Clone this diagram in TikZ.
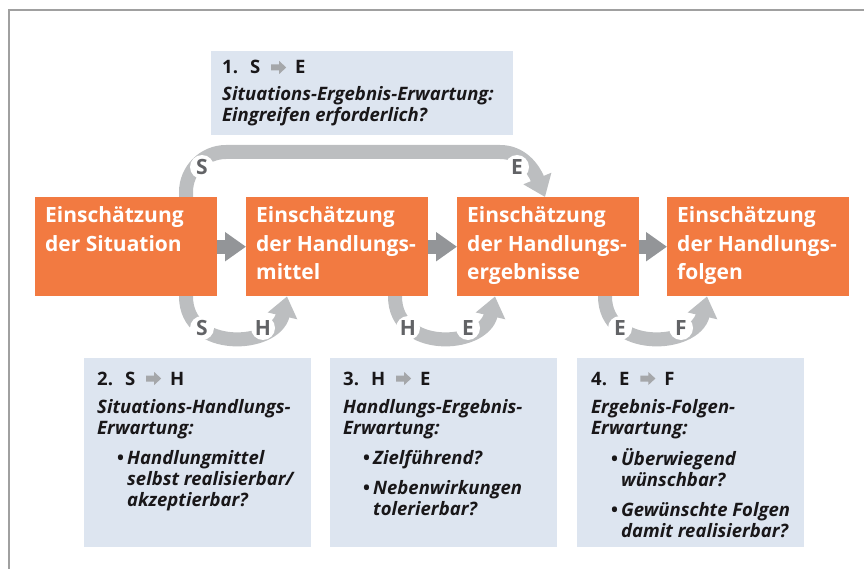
\documentclass[tikz,border=0pt]{standalone}
\usepackage{fontspec}
\setmainfont{Open Sans}
\usetikzlibrary{arrows.meta}

\definecolor{boxorange}{RGB}{242,122,65}
\definecolor{infoblue}{RGB}{221,229,240}
\definecolor{loopgray}{RGB}{188,190,192}
\definecolor{stepgray}{RGB}{147,149,152}
\definecolor{lettergray}{RGB}{98,99,102}
\definecolor{framegray}{RGB}{160,160,160}
\definecolor{inktext}{RGB}{25,23,25}
\definecolor{hdarrowgray}{RGB}{165,167,170}

% small block arrow used in the headings
\newcommand\hdarrow{\tikz[x=1pt,y=1pt,baseline=0pt]\fill[hdarrowgray]
  (0,3.5)--(8,3.5)--(8,0)--(15,6.5)--(8,13)--(8,9.5)--(0,9.5)--cycle;}
\newcommand\hdline[3]{#1\hspace{12pt}#2\hspace{11pt}\hdarrow\hspace{9pt}#3}
\newcommand\bulitem[1]{{\leftskip=30pt\noindent\llap{\makebox[10pt][l]{\upshape\textbullet}}#1\par}}
\newcommand\otxt[1]{\parbox[t]{178pt}{\fontsize{21}{28.5}\selectfont\bfseries #1}}
\newcommand\itxt[2]{\parbox[t]{#1}{\fontsize{18.5}{21}\selectfont\bfseries\parindent=0pt #2}}

\tikzset{
  frameline/.style={draw=framegray,line width=1.5pt},
  obox/.style={rectangle,fill=boxorange,minimum width=182pt,minimum height=99pt,inner sep=0pt},
  ibox/.style={rectangle,fill=infoblue,inner sep=0pt},
  otext/.style={inner sep=0pt,text=white,anchor=base west},
  itext/.style={inner sep=0pt,text=inktext,anchor=base west},
  loopar/.style={draw=loopgray,line width=14pt,-{Triangle[length=20pt,width=29pt]}},
  stepar/.style={draw=stepgray,line width=14pt,-{Triangle[length=21pt,width=28pt]}},
  lbl/.style={circle,fill=white,inner sep=0pt,minimum size=24pt,text=lettergray,
    font=\fontsize{21}{21}\selectfont\bfseries},
}

\begin{document}
\begin{tikzpicture}[x=1pt,y=-1pt]
\useasboundingbox (0,0) rectangle (864,569);

% frame
\draw[frameline] (9,569) -- (9,10) -- (864,10);

% question boxes
\node[ibox,anchor=north west,minimum width=302pt,minimum height=84pt] (q1) at (211,51) {};
\node[ibox,anchor=north west,minimum width=227pt,minimum height=189pt] (q2) at (84,358) {};
\node[ibox,anchor=north west,minimum width=227pt,minimum height=189pt] (q3) at (330,358) {};
\node[ibox,anchor=north west,minimum width=227pt,minimum height=189pt] (q4) at (577,358) {};

% assessment boxes (positions only, filled later on top of the loops)
\path node[obox,anchor=north west,fill=none] (b1) at (35,197) {}
      node[obox,anchor=north west,fill=none] (b2) at (246,197) {}
      node[obox,anchor=north west,fill=none] (b3) at (457,197) {}
      node[obox,anchor=north west,fill=none] (b4) at (667,197) {};

% expectation loops
\draw[loopar] ([xshift=151pt,yshift=-8pt]b1.north west) -- ([xshift=151pt,yshift=5pt]b1.north west)
  .. controls (186,170) and (204,152) .. (226,152) -- (500,152)
  .. controls (521,152) and (533,168) .. ([xshift=88pt]b3.north west);
\draw[loopar] ([xshift=151pt,yshift=8pt]b1.south west) -- ([xshift=151pt]b1.south west)
  .. controls +(0,56) and +(-12,52) .. ([xshift=41pt]b2.south west);
\draw[loopar] ([xshift=149pt,yshift=8pt]b2.south west) -- ([xshift=149pt]b2.south west)
  .. controls +(0,56) and +(-12,52) .. ([xshift=38pt]b3.south west);
\draw[loopar] ([xshift=148pt,yshift=8pt]b3.south west) -- ([xshift=148pt]b3.south west)
  .. controls +(0,56) and +(-12,52) .. ([xshift=40pt]b4.south west);

% assessment boxes
\fill[boxorange] (b1.north west) rectangle (b1.south east);
\fill[boxorange] (b2.north west) rectangle (b2.south east);
\fill[boxorange] (b3.north west) rectangle (b3.south east);
\fill[boxorange] (b4.north west) rectangle (b4.south east);

\node[otext] (t1) at (45,223) {\otxt{Einschätzung\\der Situation}};
\node[otext] (t2) at (256,223) {\otxt{Einschätzung\\der Handlungs-\\mittel}};
\node[otext] (t3) at (467,223) {\otxt{Einschätzung\\der Handlungs-\\ergebnisse}};
\node[otext] (t4) at (677,223) {\otxt{Einschätzung\\der Handlungs-\\folgen}};

% sequence arrows
\draw[stepar] (b1.east) -- (b2.west);
\draw[stepar] (b2.east) -- (b3.west);
\draw[stepar] (b3.east) -- (b4.west);

% loop letters
\node[lbl] (ls0) at (202,167) {S};
\node[lbl] (le0) at (517,167) {E};
\node[lbl] (ls1) at (202,328) {S};
\node[lbl] (lh1) at (263,328) {H};
\node[lbl] (lh2) at (408,328) {H};
\node[lbl] (le2) at (468,328) {E};
\node[lbl] (le3) at (620,328) {E};
\node[lbl] (lf3) at (681,328) {F};

% question texts
\node[itext] (x1) at (222,74) {\itxt{290pt}{\hdline{1.}{S}{E}\par\vspace{6pt}
  {\itshape Situations-Ergebnis-Erwartung:\\Eingreifen erforderlich?\par}}};
\node[itext] (x2) at (97,385) {\itxt{212pt}{\hdline{2.}{S}{H}\par\vspace{7pt}
  {\itshape Situations-Handlungs-\\Erwartung:\par}\vspace{9pt}
  {\itshape\bulitem{Handlungmittel\\selbst realisierbar/\\akzeptierbar?}}}};
\node[itext] (x3) at (343,385) {\itxt{212pt}{\hdline{3.}{H}{E}\par\vspace{7pt}
  {\itshape Handlungs-Ergebnis-\\Erwartung:\par}\vspace{9pt}
  {\itshape\bulitem{Zielführend?}\vspace{9pt}\bulitem{Nebenwirkungen\\tolerierbar?}}}};
\node[itext] (x4) at (591,385) {\itxt{212pt}{\hdline{4.}{E}{F}\par\vspace{7pt}
  {\itshape Ergebnis-Folgen-\\Erwartung:\par}\vspace{9pt}
  {\itshape\bulitem{Überwiegend\\wünschbar?}\vspace{9pt}\bulitem{Gewünschte Folgen\\damit realisierbar?}}}};
\end{tikzpicture}
\end{document}
